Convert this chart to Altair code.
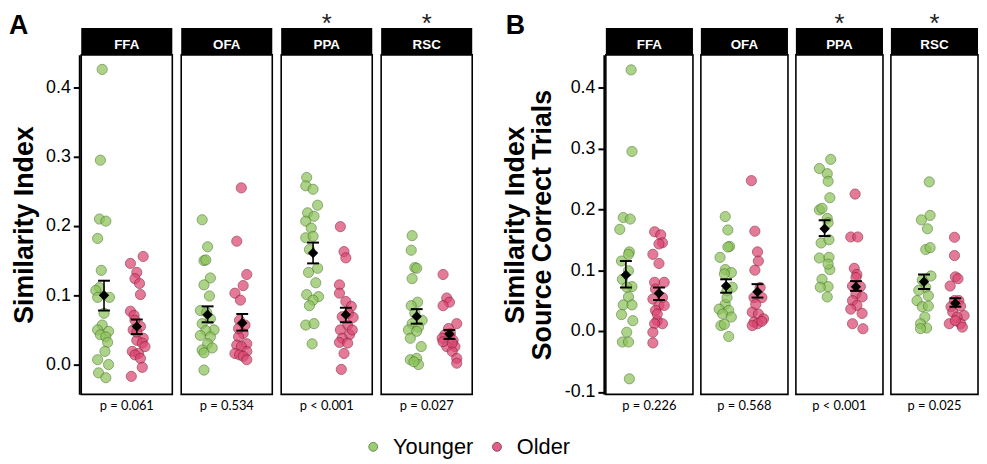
import altair as alt
import pandas as pd

regions = ["FFA", "OFA", "PPA", "RSC"]
groups = ["Younger", "Older"]
stars = ["", "", "*", "*"]

# ---------------- Panel A: Similarity Index ----------------
A_FFA_young = [0.426, 0.295, 0.210, 0.207, 0.182, 0.136, 0.111, 0.107, 0.097, 0.097, 0.074, 0.057, 0.050, 0.048, 0.043, 0.040, 0.032, 0.019, 0.007, 0.000, -0.012, -0.019]
A_FFA_young_jit = [0.23, 0.21, 0.20, 0.27, 0.18, 0.22, 0.20, 0.16, 0.18, 0.31, 0.25, 0.23, 0.18, 0.30, 0.21, 0.27, 0.29, 0.26, 0.18, 0.30, 0.19, 0.27]
A_FFA_old = [0.156, 0.146, 0.133, 0.124, 0.117, 0.101, 0.077, 0.071, 0.064, 0.055, 0.050, 0.038, 0.035, 0.031, 0.019, 0.016, 0.014, 0.009, -0.004, -0.017, 0.026, 0.047]
A_FFA_old_jit = [0.68, 0.54, 0.61, 0.59, 0.64, 0.65, 0.54, 0.58, 0.59, 0.65, 0.57, 0.68, 0.61, 0.67, 0.56, 0.63, 0.59, 0.65, 0.67, 0.55, 0.70, 0.61]

A_OFA_young = [0.209, 0.170, 0.150, 0.151, 0.125, 0.115, 0.099, 0.078, 0.075, 0.066, 0.059, 0.050, 0.049, 0.042, 0.040, 0.030, 0.021, 0.024, 0.017, -0.008]
A_OFA_young_jit = [0.23, 0.29, 0.25, 0.27, 0.32, 0.25, 0.31, 0.21, 0.28, 0.32, 0.23, 0.36, 0.27, 0.21, 0.32, 0.29, 0.23, 0.34, 0.25, 0.25]
A_OFA_old = [0.255, 0.178, 0.130, 0.114, 0.103, 0.093, 0.064, 0.045, 0.040, 0.030, 0.028, 0.026, 0.016, 0.019, 0.014, 0.012, 0.007, 0.052, 0.057]
A_OFA_old_jit = [0.66, 0.61, 0.72, 0.68, 0.59, 0.65, 0.64, 0.68, 0.63, 0.72, 0.61, 0.66, 0.59, 0.72, 0.64, 0.68, 0.72, 0.63, 0.70]

A_PPA_young = [0.270, 0.258, 0.253, 0.230, 0.219, 0.207, 0.214, 0.197, 0.183, 0.185, 0.166, 0.139, 0.133, 0.118, 0.101, 0.098, 0.093, 0.085, 0.057, 0.059, 0.030]
A_PPA_young_jit = [0.28, 0.27, 0.35, 0.40, 0.29, 0.27, 0.36, 0.33, 0.27, 0.35, 0.31, 0.40, 0.30, 0.38, 0.28, 0.41, 0.35, 0.31, 0.27, 0.36, 0.34]
A_PPA_old = [0.199, 0.163, 0.154, 0.115, 0.103, 0.091, 0.084, 0.074, 0.069, 0.068, 0.057, 0.050, 0.043, 0.038, 0.032, 0.031, 0.016, -0.007, 0.050]
A_PPA_old_jit = [0.65, 0.69, 0.71, 0.64, 0.64, 0.71, 0.77, 0.74, 0.67, 0.79, 0.73, 0.65, 0.75, 0.67, 0.64, 0.73, 0.69, 0.66, 0.78]

A_RSC_young = [0.186, 0.165, 0.140, 0.139, 0.124, 0.090, 0.085, 0.074, 0.064, 0.059, 0.054, 0.050, 0.048, 0.038, 0.026, 0.007, 0.009, 0.000, 0.004]
A_RSC_young_jit = [0.34, 0.33, 0.37, 0.39, 0.34, 0.40, 0.33, 0.37, 0.45, 0.34, 0.41, 0.30, 0.39, 0.32, 0.44, 0.32, 0.39, 0.41, 0.36]
A_RSC_old = [0.130, 0.096, 0.090, 0.085, 0.059, 0.043, 0.045, 0.038, 0.035, 0.026, 0.026, 0.019, 0.052, 0.009, 0.002, 0.033, 0.031]
A_RSC_old_jit = [0.68, 0.72, 0.75, 0.68, 0.83, 0.70, 0.76, 0.67, 0.79, 0.81, 0.72, 0.78, 0.74, 0.83, 0.83, 0.68, 0.78]

A_mean_young = [0.100, 0.072, 0.161, 0.0695]
A_lo_young = [0.078, 0.061, 0.146, 0.059]
A_hi_young = [0.121, 0.084, 0.176, 0.080]
A_mean_young_jit = [0.25, 0.29, 0.35, 0.39]
A_mean_old = [0.055, 0.060, 0.072, 0.044]
A_lo_old = [0.044, 0.049, 0.061, 0.037]
A_hi_old = [0.065, 0.073, 0.082, 0.050]
A_mean_old_jit = [0.61, 0.67, 0.71, 0.75]
A_pvals = ["p = 0.061", "p = 0.534", "p < 0.001", "p = 0.027"]

# ---------------- Panel B: Similarity Index, Source Correct Trials ----------------
B_FFA_young = [0.429, 0.295, 0.1865, 0.184, 0.167, 0.130, 0.126, 0.115, 0.099, 0.085, 0.073, 0.056, 0.043, 0.043, 0.027, 0.017, -0.002, -0.018, -0.018, -0.0785, 0.072]
B_FFA_young_jit = [0.29, 0.30, 0.20, 0.28, 0.16, 0.27, 0.26, 0.18, 0.26, 0.19, 0.30, 0.26, 0.20, 0.30, 0.18, 0.31, 0.24, 0.19, 0.26, 0.27, 0.24]
B_FFA_old = [0.163, 0.158, 0.145, 0.143, 0.126, 0.111, 0.080, 0.080, 0.069, 0.055, 0.0525, 0.042, 0.042, 0.034, 0.017, 0.012, 0.012, -0.002, -0.0195, 0.028]
B_FFA_old_jit = [0.56, 0.63, 0.65, 0.61, 0.54, 0.61, 0.56, 0.67, 0.57, 0.65, 0.54, 0.61, 0.67, 0.57, 0.59, 0.65, 0.56, 0.54, 0.54, 0.59]

B_OFA_young = [0.188, 0.166, 0.139, 0.138, 0.121, 0.101, 0.096, 0.094, 0.072, 0.066, 0.044, 0.036, 0.034, 0.028, 0.023, 0.009, 0.011, -0.009, 0.055]
B_OFA_young_jit = [0.28, 0.31, 0.33, 0.31, 0.22, 0.28, 0.35, 0.27, 0.36, 0.30, 0.28, 0.21, 0.32, 0.25, 0.35, 0.23, 0.27, 0.32, 0.30]
B_OFA_old = [0.247, 0.164, 0.130, 0.115, 0.100, 0.0715, 0.055, 0.055, 0.031, 0.028, 0.020, 0.0146, 0.012, 0.016, 0.044, 0.009]
B_OFA_old_jit = [0.58, 0.62, 0.65, 0.66, 0.62, 0.68, 0.61, 0.70, 0.59, 0.66, 0.72, 0.61, 0.65, 0.70, 0.63, 0.59]

B_PPA_young = [0.282, 0.267, 0.2585, 0.246, 0.219, 0.199, 0.2016, 0.185, 0.178, 0.1447, 0.150, 0.120, 0.121, 0.101, 0.110, 0.085, 0.073, 0.072, 0.056]
B_PPA_young_jit = [0.40, 0.27, 0.36, 0.37, 0.39, 0.27, 0.30, 0.36, 0.37, 0.29, 0.38, 0.27, 0.38, 0.39, 0.37, 0.30, 0.37, 0.28, 0.36]
B_PPA_old = [0.225, 0.1545, 0.1545, 0.103, 0.093, 0.074, 0.073, 0.061, 0.056, 0.050, 0.042, 0.036, 0.029, 0.012, 0.0038, 0.088]
B_PPA_old_jit = [0.68, 0.63, 0.71, 0.67, 0.70, 0.65, 0.74, 0.69, 0.76, 0.65, 0.70, 0.63, 0.76, 0.65, 0.77, 0.69]

B_RSC_young = [0.245, 0.190, 0.1826, 0.168, 0.134, 0.137, 0.0905, 0.0835, 0.0715, 0.050, 0.058, 0.040, 0.041, 0.023, 0.012, 0.005, 0.004, 0.067]
B_RSC_young_jit = [0.44, 0.45, 0.35, 0.42, 0.40, 0.45, 0.46, 0.36, 0.40, 0.30, 0.43, 0.36, 0.43, 0.39, 0.34, 0.41, 0.34, 0.32]
B_RSC_old = [0.154, 0.124, 0.089, 0.086, 0.074, 0.050, 0.050, 0.040, 0.041, 0.031, 0.0255, 0.023, 0.012, 0.012, 0.017, 0.0065]
B_RSC_old_jit = [0.73, 0.73, 0.74, 0.77, 0.68, 0.73, 0.78, 0.69, 0.80, 0.71, 0.84, 0.76, 0.67, 0.80, 0.74, 0.82]

B_mean_young = [0.092, 0.074, 0.168, 0.081]
B_lo_young = [0.0715, 0.063, 0.156, 0.069]
B_hi_young = [0.115, 0.085, 0.182, 0.093]
B_mean_young_jit = [0.23, 0.29, 0.33, 0.38]
B_mean_old = [0.062, 0.0645, 0.0726, 0.0455]
B_lo_old = [0.051, 0.055, 0.066, 0.040]
B_hi_old = [0.0715, 0.077, 0.082, 0.054]
B_mean_old_jit = [0.61, 0.65, 0.69, 0.74]
B_pvals = ["p = 0.226", "p = 0.568", "p < 0.001", "p = 0.025"]

GREEN, GREEN_D = "#8dc35b", "#4d7a2b"
RED, RED_D = "#dc4671", "#8a1d3d"
FONT = "Liberation Sans"
H = 343


def make_df(points, means, pvals):
    rows = []
    for reg, grp, vals, jit in points:
        for v, j in zip(vals, jit):
            rows.append(dict(kind="pt", region=reg, group=grp, value=v, xpos=j))
    for grp, mv, lo, hi, mj in means:
        for reg, m, l, h, j in zip(regions, mv, lo, hi, mj):
            rows.append(dict(kind="mean", region=reg, group=grp, mean=m, lo=l, hi=h, xpos=j))
    for reg, p, s in zip(regions, pvals, stars):
        rows.append(dict(kind="lab", region=reg, ptxt=p, star=s))
    return pd.DataFrame(rows)


def panel(df, ydom, yticks, ytitle, fw, spacing, letter, letter_dx, title_pad):
    xs = alt.Scale(domain=[0, 1], nice=False, zero=False)
    ys = alt.Scale(domain=ydom, nice=False, zero=False)
    yaxis = alt.Axis(
        values=yticks, format=".1f", grid=False, offset=1,
        labelExpr="replace(datum.label, '\u2212', '-')",
        labelFont=FONT, labelFontSize=18, labelColor="black", labelPadding=3,
        tickColor="black", tickWidth=2, tickSize=6,
        domainColor="black", domainWidth=2,
        titleFont=FONT, titleFontSize=27, titleFontWeight="bold", titleColor="black",
        titlePadding=title_pad, titleLineHeight=27,
    )
    X = alt.X("xpos:Q", scale=xs, axis=None)
    base = alt.Chart()
    pts = base.transform_filter("datum.kind == 'pt'").mark_circle(
        size=105, opacity=0.72, strokeWidth=0.9
    ).encode(
        x=X,
        y=alt.Y("value:Q", scale=ys, axis=yaxis, title=ytitle),
        fill=alt.Fill(
            "group:N", scale=alt.Scale(domain=groups, range=[GREEN, RED]),
            legend=alt.Legend(
                orient="none", legendX=284, legendY=385, direction="horizontal", title=None,
                labelFont=FONT, labelFontSize=22, labelColor="black", symbolType="circle",
                symbolSize=80, symbolStrokeColor="#444", symbolStrokeWidth=1, symbolOpacity=0.85,
                labelOffset=9, columnPadding=12,
            ),
        ),
        stroke=alt.Stroke("group:N", scale=alt.Scale(domain=groups, range=[GREEN_D, RED_D]), legend=None),
    )
    mbase = base.transform_filter("datum.kind == 'mean'")
    rule = mbase.mark_rule(color="black", strokeWidth=1.6).encode(
        x=X, y=alt.Y("lo:Q", scale=ys, axis=yaxis, title=ytitle), y2="hi:Q"
    )
    cap_lo = mbase.mark_tick(orient="horizontal", size=12, thickness=2, color="black", opacity=1).encode(
        x=X, y=alt.Y("lo:Q", scale=ys, axis=yaxis, title=ytitle)
    )
    cap_hi = mbase.mark_tick(orient="horizontal", size=12, thickness=2, color="black", opacity=1).encode(
        x=X, y=alt.Y("hi:Q", scale=ys, axis=yaxis, title=ytitle)
    )
    dia = mbase.mark_point(shape="diamond", filled=True, size=110, color="black", opacity=1).encode(
        x=X, y=alt.Y("mean:Q", scale=ys, axis=yaxis, title=ytitle)
    )
    lbase = base.transform_filter("datum.kind == 'lab'")
    strip = lbase.mark_rect(color="black").encode(
        x=alt.value(0), x2=alt.value(fw), y=alt.value(-27), y2=alt.value(0)
    )
    strip_txt = lbase.mark_text(
        color="white", fontWeight="bold", fontSize=13.5, font=FONT, baseline="middle"
    ).encode(x=alt.value(fw / 2), y=alt.value(-10), text="region:N")
    star = lbase.mark_text(color="#222", fontSize=26, font=FONT, baseline="alphabetic").encode(
        x=alt.value(fw / 2), y=alt.value(-23), text="star:N"
    )
    ptxt = lbase.mark_text(color="black", fontSize=13, font="Lato", baseline="middle").encode(
        x=alt.value(fw / 2), y=alt.value(H + 12), text="ptxt:N"
    )

    layered = alt.layer(pts, rule, cap_lo, cap_hi, dia, strip, strip_txt, star, ptxt, data=df).properties(
        width=fw, height=H
    )
    return layered.facet(
        column=alt.Column("region:N", sort=regions, header=alt.Header(labels=False, title=None)),
        spacing=spacing,
    ).properties(
        title=alt.TitleParams(
            text=letter, anchor="start", frame="bounds", orient="top", offset=0,
            fontSize=27, fontWeight="bold", font=FONT, color="black", dx=letter_dx, dy=30,
        )
    )


dfA = make_df(
    [
        ("FFA", "Younger", A_FFA_young, A_FFA_young_jit), ("FFA", "Older", A_FFA_old, A_FFA_old_jit),
        ("OFA", "Younger", A_OFA_young, A_OFA_young_jit), ("OFA", "Older", A_OFA_old, A_OFA_old_jit),
        ("PPA", "Younger", A_PPA_young, A_PPA_young_jit), ("PPA", "Older", A_PPA_old, A_PPA_old_jit),
        ("RSC", "Younger", A_RSC_young, A_RSC_young_jit), ("RSC", "Older", A_RSC_old, A_RSC_old_jit),
    ],
    [
        ("Younger", A_mean_young, A_lo_young, A_hi_young, A_mean_young_jit),
        ("Older", A_mean_old, A_lo_old, A_hi_old, A_mean_old_jit),
    ],
    A_pvals,
)
dfB = make_df(
    [
        ("FFA", "Younger", B_FFA_young, B_FFA_young_jit), ("FFA", "Older", B_FFA_old, B_FFA_old_jit),
        ("OFA", "Younger", B_OFA_young, B_OFA_young_jit), ("OFA", "Older", B_OFA_old, B_OFA_old_jit),
        ("PPA", "Younger", B_PPA_young, B_PPA_young_jit), ("PPA", "Older", B_PPA_old, B_PPA_old_jit),
        ("RSC", "Younger", B_RSC_young, B_RSC_young_jit), ("RSC", "Older", B_RSC_old, B_RSC_old_jit),
    ],
    [
        ("Younger", B_mean_young, B_lo_young, B_hi_young, B_mean_young_jit),
        ("Older", B_mean_old, B_lo_old, B_hi_old, B_mean_old_jit),
    ],
    B_pvals,
)

panelA = panel(dfA, [-0.043, 0.447], [0.0, 0.1, 0.2, 0.3, 0.4], "Similarity Index", 92, 7, "A", -2, 7)
panelB = panel(
    dfB, [-0.104, 0.4537], [-0.1, 0.0, 0.1, 0.2, 0.3, 0.4],
    ["Similarity Index", "Source Correct Trials"], 88, 6, "B", 4, 8,
)

chart = alt.hconcat(panelA, panelB, spacing=28).properties(
    padding={"left": 0, "top": 0, "right": 0, "bottom": 0}
).configure(
    background="white",
    view=alt.ViewConfig(stroke="black", strokeWidth=1.6),
    style={"cell": {"stroke": "black", "strokeWidth": 1.6}},
)

chart.save("out.html", embed_options={"renderer": "svg", "actions": False})
